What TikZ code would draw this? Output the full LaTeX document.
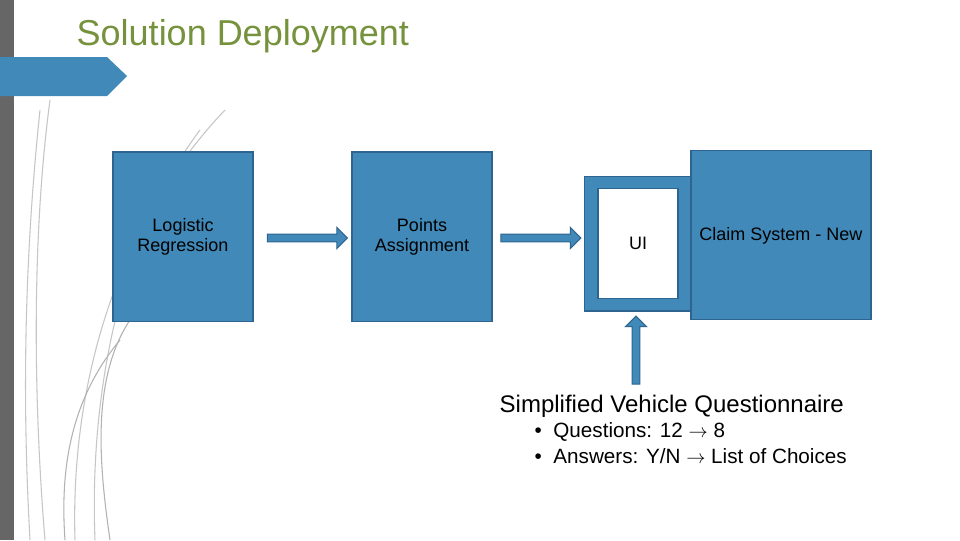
\documentclass[tikz,border=0pt]{standalone}
\usepackage{fontspec}
\setmainfont{Liberation Sans}
\usetikzlibrary{shapes.arrows}
\definecolor{bfill}{HTML}{4189B8}
\definecolor{bline}{HTML}{2E6590}
\definecolor{olive}{HTML}{76923C}
\tikzset{x=0.75pt,y=-0.75pt,
 box/.style={draw=bline,fill=bfill,line width=1pt},
 bt/.style={font=\fontsize{13.5}{15.5}\selectfont,align=center},
 barrow/.style={single arrow,draw=bline,fill=bfill,line width=0.8pt,minimum height=#1,single arrow head extend=5pt,inner sep=2.5pt},
 deco/.style={draw=gray!45,line width=0.8pt}}
\begin{document}
\begin{tikzpicture}
\useasboundingbox[fill=white] (0,0) rectangle (960,540);
\fill[gray!80!black] (0,0) rectangle (14,540);
\fill[bfill] (0,57) -- (107,57) -- (127,76) -- (107,96) -- (0,96) -- cycle;
\node[anchor=west,text=olive,font=\fontsize{27}{31}\selectfont] (title) at (72,36) {Solution Deployment};
% decorative curves
\draw[deco] (50,100) .. controls (30,250) and (35,420) .. (45,540);
\draw[deco] (40,110) .. controls (20,300) and (25,450) .. (30,540);
\draw[deco] (225,110) .. controls (120,220) and (70,380) .. (75,540);
\draw[deco] (200,130) .. controls (110,250) and (90,420) .. (95,540);
\draw[deco,gray!60] (130,320) .. controls (90,380) and (100,470) .. (110,540);
\draw[deco,gray!60] (120,340) .. controls (70,400) and (60,470) .. (65,540);
% boxes
\node[box,minimum width=105pt,minimum height=127pt] (lr) at (183,236.5) {};
\node[bt] (lrt) at (183,237) {Logistic\\Regression};
\node[box,minimum width=105pt,minimum height=127pt] (pa) at (422,236.5) {};
\node[bt] (pat) at (422,237) {Points\\Assignment};
\node[box,minimum width=80pt,minimum height=101pt] (uio) at (637.5,243.5) {};
\node[draw=bline,fill=white,line width=0.8pt,minimum width=60pt,minimum height=82pt] (ui) at (638,243.5) {};
\node[bt] (uit) at (638,243.5) {UI};
\node[box,minimum width=135pt,minimum height=127pt] (cs) at (781,235) {};
\node[bt] (cst) at (781,236) {Claim System - New};
% arrows
\node[barrow=60pt] (a1) at (305.5,238) {};
\node[barrow=60pt] (a2) at (539,238) {};
\node[barrow=51pt,rotate=90] (a3) at (636,352) {};
% text
\node[anchor=west,font=\fontsize{18}{21}\selectfont] (sq) at (495,406) {Simplified Vehicle Questionnaire};
\node[anchor=west,font=\fontsize{15.5}{18}\selectfont] (b1) at (530,432) {\textbullet\ \ Questions: 12 $\rightarrow$ 8};
\node[anchor=west,font=\fontsize{15.5}{18}\selectfont] (b2) at (530,456) {\textbullet\ \ Answers: Y/N $\rightarrow$ List of Choices};
\end{tikzpicture}
\end{document}
